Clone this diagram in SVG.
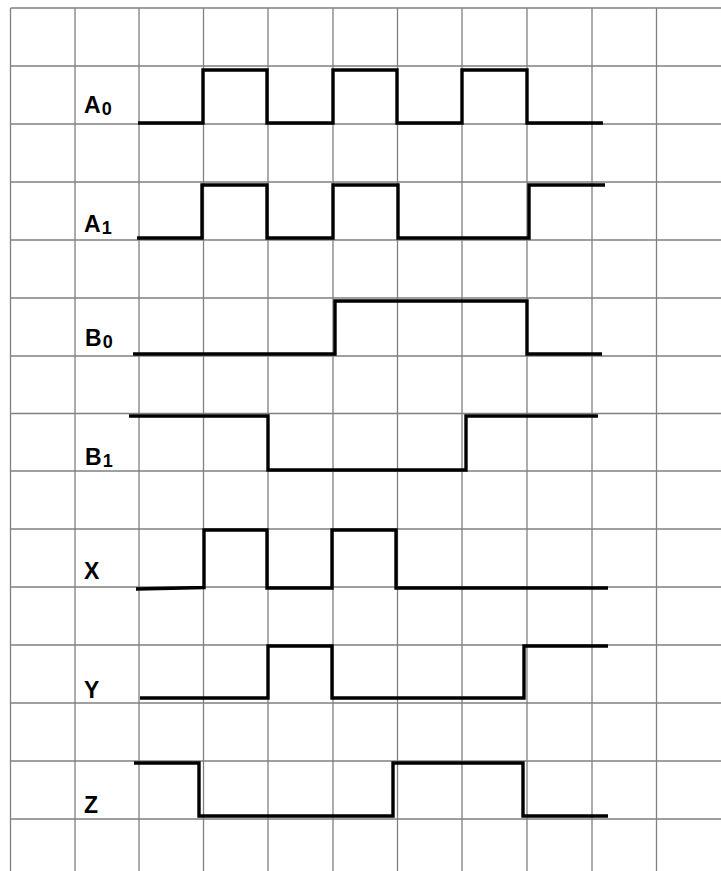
<svg xmlns="http://www.w3.org/2000/svg" width="721" height="871" viewBox="0 0 721 871">
<style>
.grid{stroke:#808080;stroke-width:1.3;fill:none}
.sig{stroke:#000;stroke-width:3.4;fill:none;stroke-linejoin:miter;stroke-linecap:butt}
.lbl{font-family:"Liberation Sans",Arial,sans-serif;font-weight:bold;font-size:23px;fill:#000}
.sub{font-size:18px}
</style>
<rect width="721" height="871" fill="#fff"/>
<g id="grid" class="grid">
<path d="M10.5,8 V871 M75,8 V871 M139,8 V871 M203.5,8 V871 M268,8 V871 M333,8 V871 M397.5,8 V871 M462,8 V871 M527,8 V871 M592,8 V871 M656.5,8 V871"/>
<path d="M10.5,8 H721 M10.5,66 H721 M10.5,124 H721 M10.5,182 H721 M10.5,240 H721 M10.5,298 H721 M10.5,356 H721 M10.5,413.5 H721 M10.5,471 H721 M10.5,529 H721 M10.5,587 H721 M10.5,645 H721 M10.5,703 H721 M10.5,761 H721 M10.5,819 H721"/>
</g>
<g id="labels">
<text id="lA0" class="lbl" x="84" y="113">A<tspan class="sub" dx="1" dy="2">0</tspan></text>
<text id="lA1" class="lbl" x="84" y="232">A<tspan class="sub" dx="1" dy="2">1</tspan></text>
<text id="lB0" class="lbl" x="85" y="346">B<tspan class="sub" dx="1" dy="2">0</tspan></text>
<text id="lB1" class="lbl" x="85" y="465">B<tspan class="sub" dx="1" dy="2">1</tspan></text>
<text id="lX" class="lbl" x="84" y="579">X</text>
<text id="lY" class="lbl" x="84" y="698">Y</text>
<text id="lZ" class="lbl" x="84" y="813">Z</text>
</g>
<g id="signals">
<path id="A0" class="sig" d="M138,123 H203 V70 H267 V123 H333 V70 H397 V123 H462 V70 H527 V123 H603"/>
<path id="A1" class="sig" d="M137,238 H202 V185 H267 V238 H333 V185 H398 V238 H529 V185 H605"/>
<path id="B0" class="sig" d="M133,354 H335 V301 H527 V354 H602"/>
<path id="B1" class="sig" d="M129,416 H268 V470 H466 V416 H598"/>
<path id="X" class="sig" d="M136,589 L204,587.5 V530 H267 V588 H332 V530 H396 V588 H608"/>
<path id="Y" class="sig" d="M140,698 H268 V646 H332 V698 H524 V646 H608"/>
<path id="Z" class="sig" d="M134,763 H199 V816 H393 V763 H523 V816 H608"/>
</g>
</svg>
